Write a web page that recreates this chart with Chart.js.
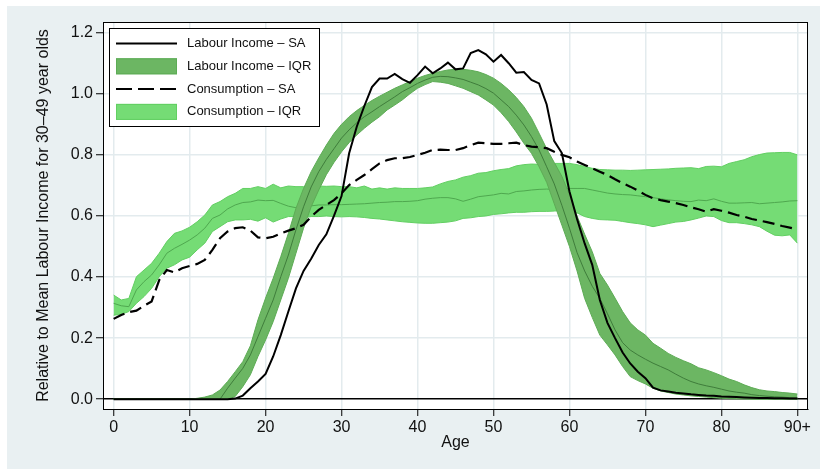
<!DOCTYPE html>
<html>
<head>
<meta charset="utf-8">
<script src="https://cdn.jsdelivr.net/npm/chart.js@4.4.1/dist/chart.umd.min.js"></script>
<style>
  html, body { margin: 0; padding: 0; background: #fff; }
  #wrap { width: 820px; height: 469px; }
</style>
</head>
<body>
<div id="wrap"><canvas id="myChart" width="820" height="469"></canvas></div>
<script>
// ages 0..90 (90 = 90+)
const ages = Array.from({ length: 91 }, (_, i) => i)
const xTickValues = [0, 10, 20, 30, 40, 50, 60, 70, 80, 90]
const xTickLabels = ['0', '10', '20', '30', '40', '50', '60', '70', '80', '90+']
const yTickValues = [0, 0.2, 0.4, 0.6, 0.8, 1.0, 1.2]
const legendLabels = ['Labour Income \u2013 SA', 'Labour Income \u2013 IQR', 'Consumption \u2013 SA', 'Consumption \u2013 IQR']

const labourSA = [
  0, 0, 0, 0, 0, 0, 0, 0, 0, 0,
  0, 0, 0, 0, 0, 0, 0.002, 0.012, 0.036, 0.058,
  0.083, 0.14, 0.21, 0.287, 0.363, 0.42, 0.46, 0.505, 0.54, 0.6,
  0.665, 0.805, 0.892, 0.96, 1.022, 1.05, 1.05, 1.065, 1.048, 1.036,
  1.061, 1.089, 1.067, 1.083, 1.102, 1.08, 1.083, 1.133, 1.143, 1.129,
  1.105, 1.127, 1.1, 1.069, 1.071, 1.045, 1.034, 0.965, 0.845, 0.806,
  0.68, 0.59, 0.51, 0.44, 0.325, 0.25, 0.2, 0.153, 0.117, 0.09,
  0.069, 0.038, 0.029, 0.025, 0.021, 0.019, 0.016, 0.014, 0.012, 0.011,
  0.009, 0.008, 0.007, 0.006, 0.005, 0.004, 0.004, 0.003, 0.003, 0.002,
  0.002
]
const labourLow = [
  0, 0, 0, 0, 0, 0, 0, 0, 0, 0,
  0, 0, 0, 0, 0, 0, 0.009, 0.041, 0.08, 0.14,
  0.194, 0.254, 0.325, 0.396, 0.478, 0.56, 0.63, 0.685, 0.735, 0.775,
  0.81, 0.84, 0.865, 0.887, 0.907, 0.925, 0.947, 0.963, 0.98, 1.0,
  1.018, 1.03, 1.04, 1.038, 1.034, 1.026, 1.018, 1.007, 0.996, 0.98,
  0.963, 0.938, 0.909, 0.875, 0.838, 0.805, 0.761, 0.71, 0.64, 0.57,
  0.5, 0.42, 0.33, 0.268, 0.21, 0.178, 0.145, 0.107, 0.074, 0.061,
  0.05, 0.036, 0.027, 0.022, 0.017, 0.014, 0.011, 0.009, 0.007, 0.005,
  0.003, 0.002, 0.001, 0.001, 0, 0, 0, 0, 0, 0,
  0
]
const labourMed = [
  0, 0, 0, 0, 0, 0, 0, 0, 0, 0,
  0, 0, 0, 0, 0, 0.036, 0.069, 0.101, 0.145, 0.205,
  0.265, 0.325, 0.401, 0.472, 0.555, 0.63, 0.695, 0.745, 0.785, 0.82,
  0.855, 0.882, 0.905, 0.925, 0.941, 0.958, 0.974, 0.99, 1.007, 1.02,
  1.034, 1.045, 1.054, 1.057, 1.056, 1.052, 1.047, 1.038, 1.029, 1.017,
  1.002, 0.98, 0.958, 0.93, 0.898, 0.86, 0.816, 0.761, 0.705, 0.635,
  0.56, 0.48, 0.42, 0.37, 0.33, 0.28, 0.227, 0.185, 0.161, 0.145,
  0.131, 0.118, 0.107, 0.096, 0.082, 0.069, 0.058, 0.05, 0.044, 0.039,
  0.033, 0.027, 0.023, 0.02, 0.015, 0.012, 0.01, 0.008, 0.007, 0.005,
  0.004
]
const labourUp = [
  0, 0, 0, 0, 0, 0, 0, 0, 0, 0,
  0, 0.003, 0.007, 0.014, 0.03, 0.058, 0.09, 0.123, 0.175, 0.26,
  0.331, 0.396, 0.467, 0.543, 0.625, 0.69, 0.745, 0.79, 0.832, 0.87,
  0.9, 0.925, 0.945, 0.962, 0.978, 0.992, 1.005, 1.018, 1.029, 1.04,
  1.051, 1.06, 1.067, 1.073, 1.078, 1.08, 1.08, 1.077, 1.072, 1.063,
  1.051, 1.034, 1.013, 0.988, 0.958, 0.92, 0.871, 0.82, 0.775, 0.73,
  0.67, 0.6, 0.54, 0.483, 0.412, 0.374, 0.331, 0.287, 0.25, 0.227,
  0.21, 0.183, 0.167, 0.15, 0.137, 0.126, 0.116, 0.103, 0.096, 0.087,
  0.077, 0.066, 0.058, 0.047, 0.038, 0.031, 0.027, 0.025, 0.022, 0.02,
  0.017
]
const consSA = [
  0.263, 0.276, 0.285, 0.29, 0.306, 0.32, 0.39, 0.423, 0.415, 0.429,
  0.436, 0.443, 0.456, 0.489, 0.527, 0.549, 0.56, 0.563, 0.552, 0.53,
  0.527, 0.532, 0.543, 0.552, 0.56, 0.571, 0.598, 0.62, 0.636, 0.652,
  0.674, 0.701, 0.718, 0.734, 0.753, 0.772, 0.783, 0.789, 0.789, 0.793,
  0.8, 0.807, 0.816, 0.817, 0.816, 0.816, 0.822, 0.832, 0.84, 0.838,
  0.836, 0.836, 0.838, 0.84, 0.832, 0.827, 0.825, 0.822, 0.81, 0.8,
  0.792, 0.778, 0.767, 0.756, 0.745, 0.734, 0.72, 0.707, 0.696, 0.683,
  0.669, 0.658, 0.652, 0.647, 0.642, 0.636, 0.628, 0.622, 0.614, 0.622,
  0.617, 0.611, 0.603, 0.598, 0.59, 0.585, 0.58, 0.574, 0.567, 0.562,
  0.556
]
const consLow = [
  0.275, 0.278, 0.287, 0.314, 0.336, 0.363, 0.401, 0.429, 0.44, 0.456,
  0.465, 0.489, 0.511, 0.549, 0.565, 0.581, 0.587, 0.587, 0.589, 0.583,
  0.594, 0.58, 0.59, 0.598, 0.598, 0.594, 0.598, 0.598, 0.6, 0.598,
  0.597, 0.598, 0.597, 0.595, 0.592, 0.59, 0.587, 0.584, 0.581, 0.579,
  0.577, 0.576, 0.576, 0.578, 0.58, 0.584, 0.592, 0.594, 0.598, 0.6,
  0.605, 0.607, 0.61, 0.612, 0.612, 0.614, 0.615, 0.615, 0.616, 0.618,
  0.62, 0.61, 0.598, 0.592, 0.588, 0.587, 0.586, 0.582, 0.578, 0.575,
  0.571, 0.565, 0.57, 0.575, 0.58, 0.582, 0.587, 0.593, 0.6, 0.598,
  0.585, 0.578, 0.578, 0.575, 0.571, 0.565, 0.55, 0.537, 0.535, 0.538,
  0.511
]
const consMed = [
  0.314, 0.306, 0.303, 0.358, 0.385, 0.407, 0.44, 0.478, 0.494, 0.507,
  0.521, 0.538, 0.56, 0.592, 0.603, 0.623, 0.636, 0.644, 0.646, 0.652,
  0.65, 0.651, 0.641, 0.632, 0.627, 0.629, 0.633, 0.636, 0.636, 0.637,
  0.637, 0.638, 0.639, 0.64, 0.642, 0.644, 0.645, 0.647, 0.647, 0.648,
  0.65, 0.655, 0.658, 0.66, 0.66, 0.656, 0.648, 0.655, 0.663, 0.666,
  0.669, 0.674, 0.672, 0.68, 0.682, 0.685, 0.687, 0.688, 0.687, 0.689,
  0.69, 0.69, 0.69, 0.685, 0.68, 0.675, 0.672, 0.67, 0.669, 0.666,
  0.663, 0.66, 0.656, 0.653, 0.65, 0.648, 0.647, 0.652, 0.65, 0.656,
  0.648, 0.642, 0.642, 0.643, 0.644, 0.64, 0.642, 0.644, 0.646, 0.649,
  0.65
]
const consUp = [
  0.341, 0.325, 0.33, 0.401, 0.423, 0.445, 0.478, 0.516, 0.543, 0.551,
  0.563, 0.581, 0.603, 0.636, 0.647, 0.663, 0.674, 0.69, 0.69, 0.696,
  0.69, 0.704, 0.692, 0.698, 0.696, 0.696, 0.698, 0.698, 0.697, 0.698,
  0.696, 0.696, 0.692, 0.698, 0.688, 0.692, 0.688, 0.692, 0.69, 0.69,
  0.69, 0.692, 0.695, 0.705, 0.713, 0.718, 0.727, 0.732, 0.74, 0.742,
  0.748, 0.752, 0.755, 0.764, 0.768, 0.77, 0.769, 0.77, 0.772, 0.772,
  0.772, 0.768, 0.762, 0.756, 0.752, 0.751, 0.75, 0.75, 0.749, 0.75,
  0.751, 0.752, 0.753, 0.754, 0.756, 0.757, 0.758, 0.755, 0.762, 0.763,
  0.761, 0.772, 0.778, 0.784, 0.794, 0.801, 0.806, 0.807, 0.808, 0.808,
  0.8
]

const pts = arr => ages.map((a, i) => ({ x: a, y: arr[i] }))

const darkFill = '#6cb663'
const darkEdge = '#5dac55'
const lightFill = '#75dc75'
const lightEdge = '#62cf62'
const font = "'Liberation Sans', Arial, Helvetica, sans-serif"
const gridCol = '#e3ebee'

const bgPlugin = {
  id: 'bg',
  beforeDraw: chart => {
    const ctx = chart.ctx
    const a = chart.chartArea
    ctx.save()
    ctx.fillStyle = '#fff'
    ctx.fillRect(0, 0, chart.width, chart.height)
    ctx.fillStyle = '#e9f0f2'
    ctx.fillRect(7, 6, chart.width - 7, chart.height - 6)
    ctx.fillStyle = '#fff'
    ctx.fillRect(a.left, a.top, a.right - a.left, a.bottom - a.top)
    ctx.restore()
  },
  afterDraw: chart => {
    const ctx = chart.ctx
    const a = chart.chartArea
    ctx.save()
    ctx.strokeStyle = '#000'
    ctx.lineWidth = 1
    ctx.strokeRect(a.left + 0.5, a.top + 0.5, a.right - a.left - 1, a.bottom - a.top)

    // legend box
    const bx = a.left + 6, by = a.top + 6, bw = 210, bh = 98
    ctx.fillStyle = '#fff'
    ctx.fillRect(bx, by, bw, bh)
    ctx.strokeRect(bx + 0.5, by + 0.5, bw, bh)
    ctx.font = '13px ' + font
    ctx.textBaseline = 'middle'
    ctx.textAlign = 'left'
    legendLabels.forEach((lab, i) => {
      const cy = by + 15.5 + i * 22.8
      const sx = bx + 7
      if (i === 0 || i === 2) {
        ctx.strokeStyle = '#000'
        ctx.lineWidth = 2
        ctx.setLineDash(i === 2 ? [16, 6] : [])
        ctx.beginPath()
        ctx.moveTo(sx, cy)
        ctx.lineTo(sx + 61, cy)
        ctx.stroke()
        ctx.setLineDash([])
      } else {
        ctx.fillStyle = i === 1 ? darkFill : lightFill
        ctx.strokeStyle = i === 1 ? darkEdge : lightEdge
        ctx.lineWidth = 1
        ctx.fillRect(sx, cy - 8, 61, 16)
        ctx.strokeRect(sx + 0.5, cy - 7.5, 60, 15)
      }
      ctx.fillStyle = '#111'
      ctx.fillText(lab, bx + 78, cy)
    })
    ctx.restore()
  }
}

new Chart('myChart', {
  type: 'line',
  plugins: [bgPlugin],
  data: {
    datasets: [
      { label: legendLabels[0], data: pts(labourSA), borderColor: '#000', borderWidth: 2, order: 1 },
      { label: legendLabels[2], data: pts(consSA), borderColor: '#000', borderWidth: 2.2, borderDash: [12, 6], order: 2 },
      { label: 'lab med', data: pts(labourMed), borderColor: '#3f7d3b', borderWidth: 1, order: 3 },
      { label: 'lab low', data: pts(labourLow), borderColor: darkEdge, borderWidth: 1, order: 4 },
      { label: legendLabels[1], data: pts(labourUp), borderColor: darkEdge, borderWidth: 1, backgroundColor: darkFill, fill: 3, order: 4 },
      { label: 'cons med', data: pts(consMed), borderColor: '#4fa84f', borderWidth: 1, order: 5 },
      { label: 'cons low', data: pts(consLow), borderColor: lightEdge, borderWidth: 1, order: 6 },
      { label: legendLabels[3], data: pts(consUp), borderColor: lightEdge, borderWidth: 1, backgroundColor: lightFill, fill: 6, order: 6 }
    ]
  },
  options: {
    responsive: false,
    animation: false,
    layout: { padding: { left: 0, top: 22, right: 12, bottom: 0 } },
    elements: { point: { radius: 0 }, line: { tension: 0 } },
    plugins: { legend: { display: false }, tooltip: { enabled: false } },
    scales: {
      x: {
        type: 'linear',
        min: -1.4,
        max: 91.4,
        afterFit: s => { s.height = 60 },
        afterBuildTicks: s => { s.ticks = xTickValues.map(v => ({ value: v })) },
        ticks: {
          color: '#111',
          font: { family: font, size: 16 },
          padding: 2,
          maxRotation: 0,
          callback: (v, i) => xTickLabels[i]
        },
        grid: { color: gridCol, lineWidth: 1.5, tickColor: '#000', tickLength: 7, tickWidth: 1 },
        border: { color: '#000', width: 1 },
        title: { display: true, text: 'Age', color: '#111', font: { family: font, size: 16 }, padding: { top: 0, bottom: 17 } }
      },
      y: {
        min: -0.032,
        max: 1.235,
        afterFit: s => { s.width = 103 },
        afterBuildTicks: s => { s.ticks = yTickValues.map(v => ({ value: v })) },
        ticks: {
          color: '#111',
          font: { family: font, size: 16 },
          padding: 3,
          callback: v => v.toFixed(1)
        },
        grid: {
          color: c => (c.tick && c.tick.value === 0 ? '#000' : gridCol),
          lineWidth: 1.5,
          tickColor: '#000',
          tickLength: 7,
          tickWidth: 1
        },
        border: { color: '#000', width: 1 },
        title: {
          display: true,
          text: 'Relative to Mean Labour Income for 30\u201349 year olds',
          color: '#111',
          font: { family: font, size: 16 },
          padding: { top: 34, bottom: 0 }
        }
      }
    }
  }
})
</script>
</body>
</html>
